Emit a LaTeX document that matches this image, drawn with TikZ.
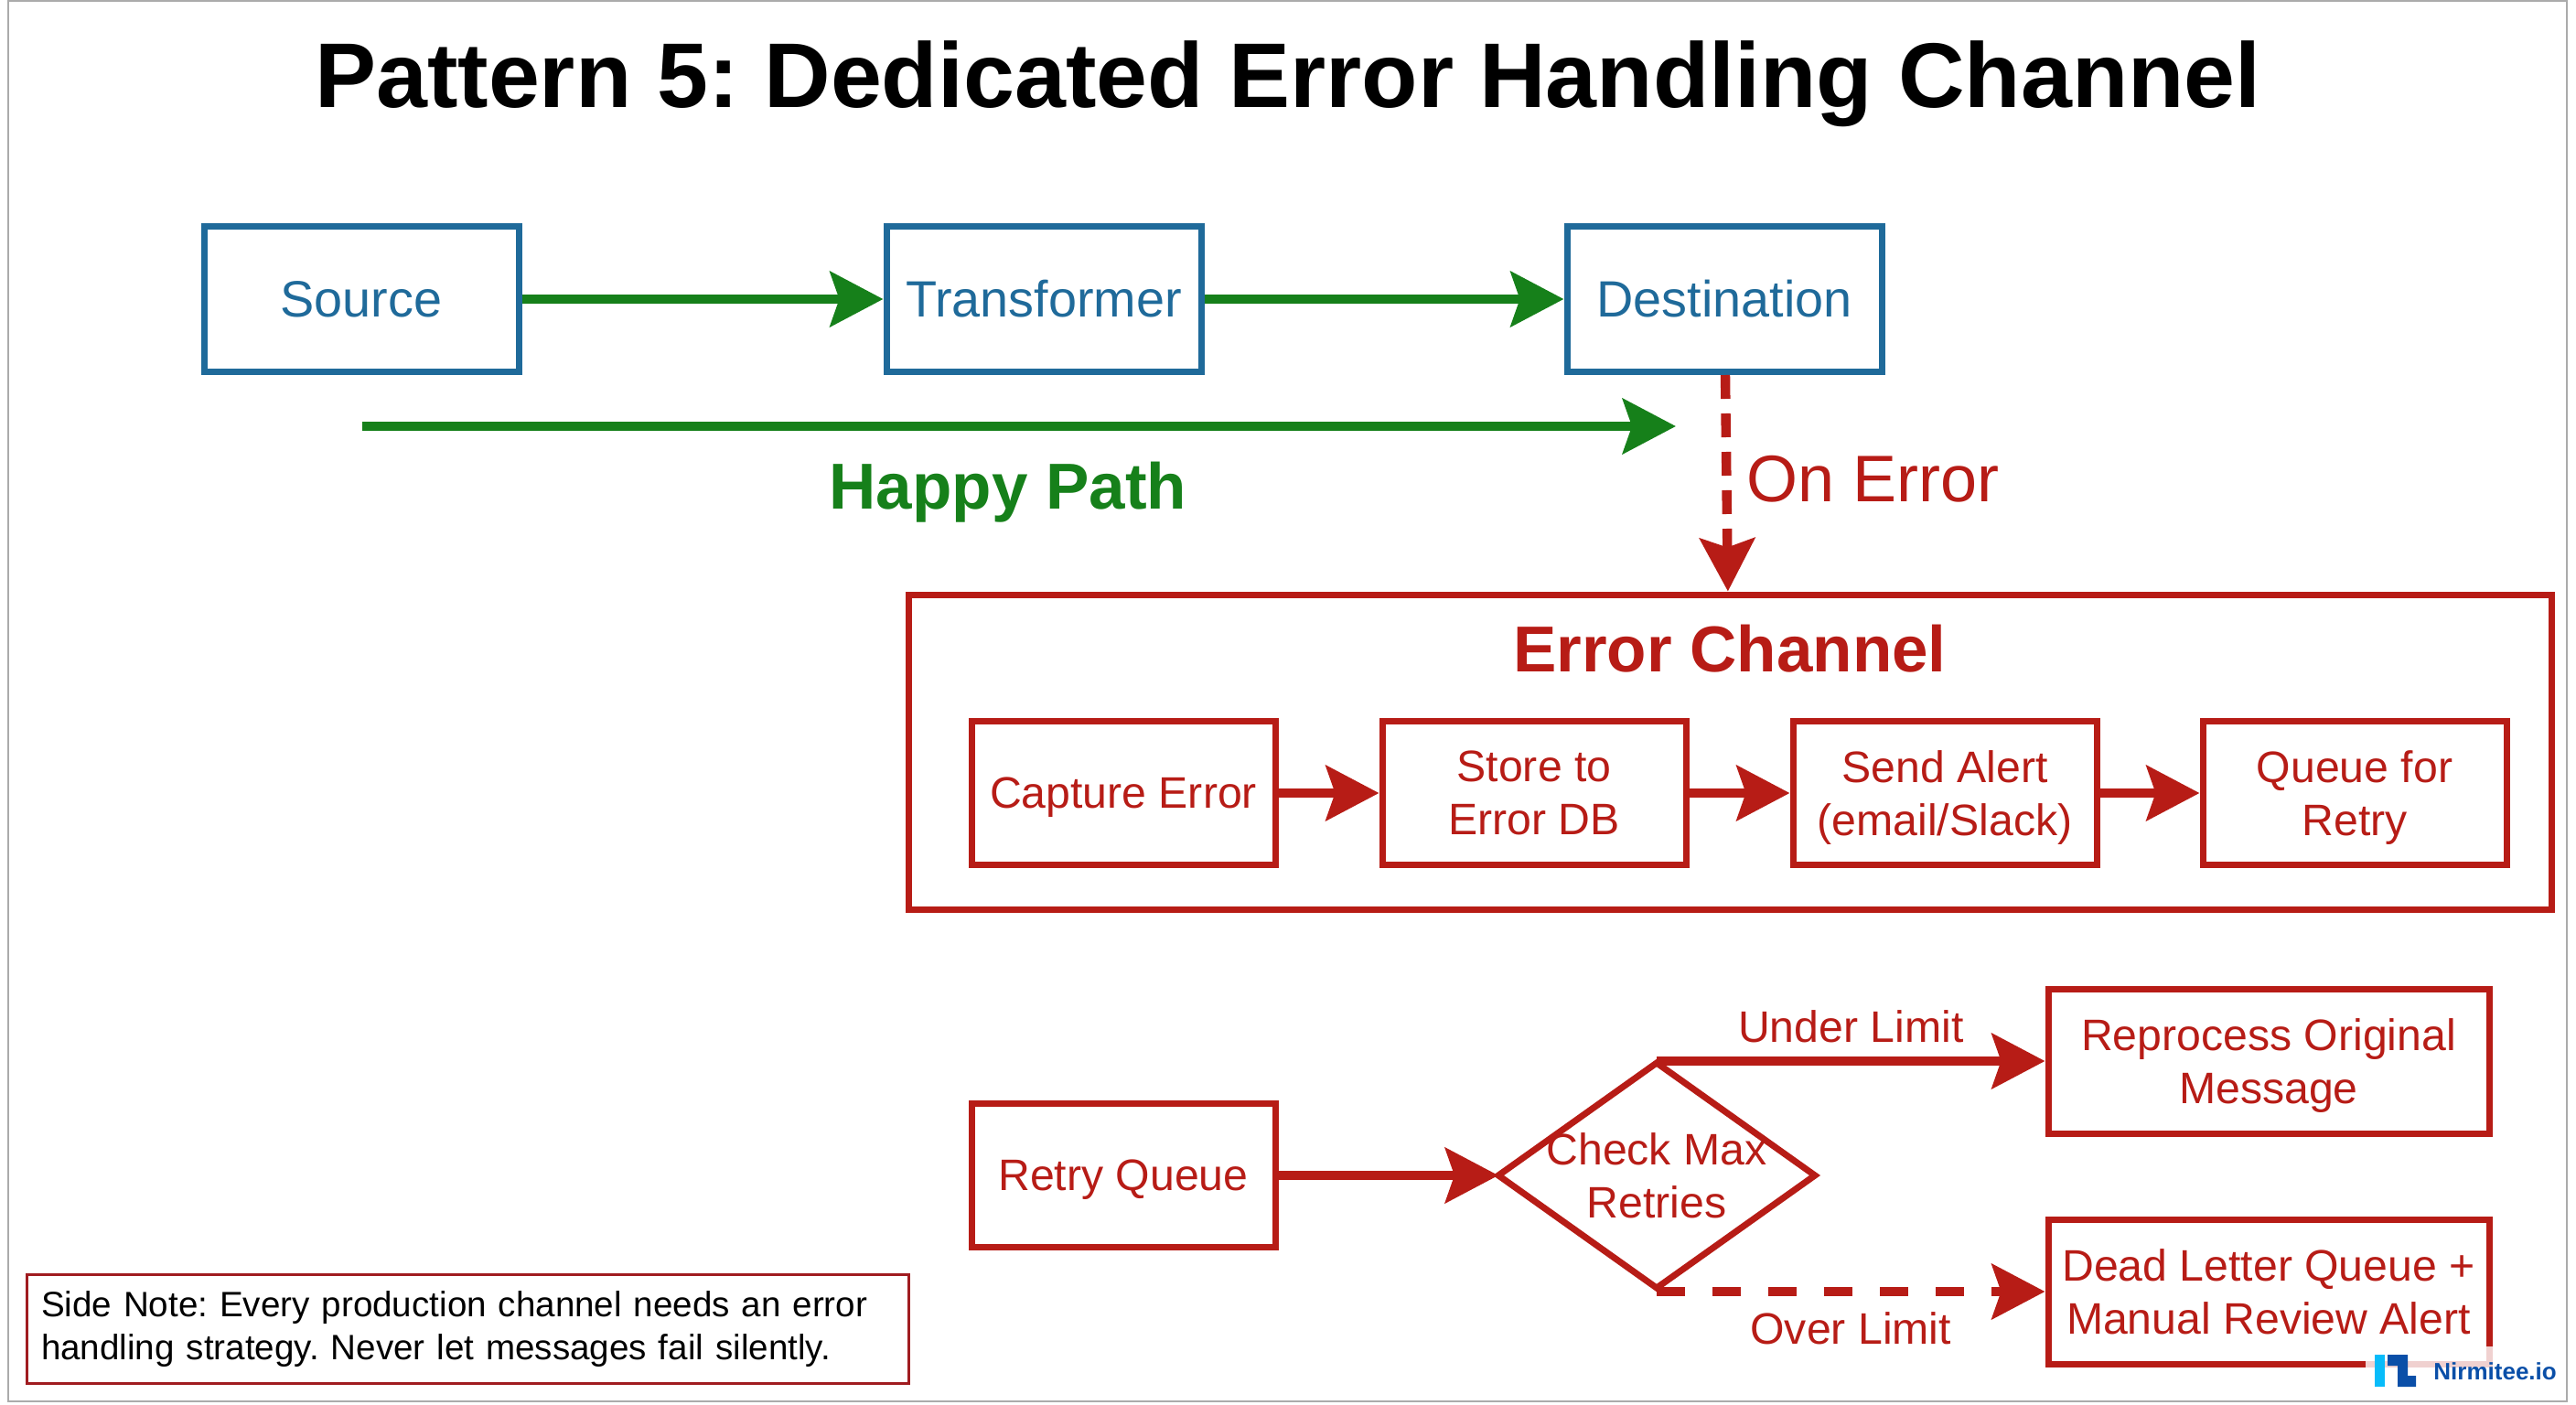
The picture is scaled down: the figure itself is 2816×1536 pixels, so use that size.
\documentclass[tikz,border=0pt]{standalone}
\usepackage{fontspec}
\setmainfont{Liberation Sans}
\frenchspacing
\usetikzlibrary{arrows.meta,shapes.geometric}
\definecolor{srcblue}{HTML}{1F6A9A}
\definecolor{happygreen}{HTML}{16801A}
\definecolor{errred}{HTML}{B71C16}
\definecolor{notered}{HTML}{A01C20}
\definecolor{logoblue}{HTML}{0A4FA8}
\definecolor{logocyan}{HTML}{08BCFA}
\definecolor{framegrey}{HTML}{ABABAB}
\tikzset{
    srcbox/.style={draw=srcblue, line width=3.5pt, text=srcblue, minimum width=172pt, minimum height=79.5pt, inner sep=0pt, align=center, font=\fontsize{27.9}{33}\selectfont},
    errbox/.style={draw=errred, line width=3.5pt, text=errred, minimum width=166pt, minimum height=78.5pt, inner sep=0pt, align=center, text depth=0pt, font=\fontsize{24.1}{29}\selectfont},
    widebox/.style={errbox, minimum width=241pt, minimum height=79pt},
    decision/.style={draw=errred, line width=3.5pt, shape=diamond, minimum width=173pt, minimum height=123pt, inner sep=0pt, outer sep=0pt},
    errtext/.style={text=errred, align=center, font=\fontsize{24.1}{29}\selectfont},
    flow/.style={line width=5.2pt, -{Stealth[length=29pt,width=30pt,inset=5pt]}},
}

\begin{document}
\begin{tikzpicture}[x=0.5pt, y=-0.5pt]
        \useasboundingbox (0,0) rectangle (2816,1536);
        \draw[framegrey, line width=1.4pt] (9,1) rectangle (2806,1532);

        \node[font=\fontsize{50.25}{60}\bfseries] (Title) at (1408,92) {%
            Pattern 5: Dedicated Error Handling Channel%
        };

        \node[srcbox] (Source) at (395,327) {%
            Source%
        };
        \node[srcbox] (Transformer) at (1141,327) {%
            Transformer%
        };
        \node[srcbox] (Destination) at (1885,327) {%
            Destination%
        };
        \draw[flow, happygreen] (Source) to (Transformer);
        \draw[flow, happygreen] (Transformer) to (Destination);

        \coordinate (HappyStart) at (396,466);
        \coordinate (HappyEnd) at (1832,466);
        \draw[flow, happygreen] (HappyStart) to (HappyEnd);
        \node[text=happygreen, font=\fontsize{35.5}{42}\bfseries] (HappyPath) at (1102,538) {%
            Happy Path%
        };

        % error channel
        \node[draw=errred, line width=3.5pt, minimum width=898pt, minimum height=172pt, inner sep=0pt] (Channel) at (1891,822) {};
        \node[text=errred, font=\fontsize{35.5}{45}\bfseries] (ChannelTitle) at (1891,709) {%
            Error Channel%
        };
        \draw[flow, errred, dash pattern=on 13pt off 8pt] (Destination) to node[pos=.48, right=5pt, text=errred, font=\fontsize{36}{43}\selectfont] {%
            On Error%
        } (Channel);

        \node[errbox] (Capture) at (1228,867) {%
            Capture Error%
        };
        \node[errbox] (Store) at (1677,867) {%
            Store to\\Error DB%
        };
        \node[errbox] (Alert) at (2126,867) {%
            Send Alert\\(email/Slack)%
        };
        \node[errbox] (Queue) at (2574,867) {%
            Queue for\\Retry%
        };
        \draw[flow, errred] (Capture) to (Store);
        \draw[flow, errred] (Store) to (Alert);
        \draw[flow, errred] (Alert) to (Queue);

        % retry path
        \node[errbox] (Retry) at (1228,1285) {%
            Retry Queue%
        };
        \node[decision] (Check) at (1811,1285) {};
        \node[errtext] (CheckText) at (Check) {%
            Check Max\\Retries%
        };
        \node[widebox] (Reprocess) at (2480,1160) {%
            Reprocess Original\\Message%
        };
        \node[widebox] (Dead) at (2480,1412) {%
            Dead Letter Queue +\\Manual Review Alert%
        };
        \draw[flow, errred] (Retry) to (Check);
        \draw[flow, errred] (Check.north |- Reprocess.west) to node[above=4pt, errtext] {%
            Under Limit%
        } (Reprocess);
        \draw[flow, errred, dash pattern=on 15.5pt off 15pt] (Check.south |- Dead.west) to node[below=5.5pt, errtext] {%
            Over Limit%
        } (Dead);

        \node[draw=notered, line width=1.5pt, minimum width=482pt, minimum height=59.5pt, inner sep=0pt, align=left, text width=466pt, font=\fontsize{19.3}{23.5}\selectfont] (Note) at (511,1453) {%
            Side Note: Every production channel needs an error\\handling strategy. Never let messages fail silently.%
        };

        % logo
        \fill[white, opacity=.8] (2586,1472) rectangle (2804,1530);
        \fill[logocyan] (2596,1481) rectangle (2607,1516);
        \fill[logoblue] (2610,1481) -- (2632,1481) -- (2632,1504) -- (2641,1504) -- (2641,1516) -- (2621,1516) -- (2621,1493) -- (2610,1493) -- cycle;
        \node[text=logoblue, anchor=west, inner sep=0pt, font=\fontsize{13}{15}\bfseries] (Logo) at (2660,1499) {%
            Nirmitee.io%
        };
\end{tikzpicture}
\end{document}
